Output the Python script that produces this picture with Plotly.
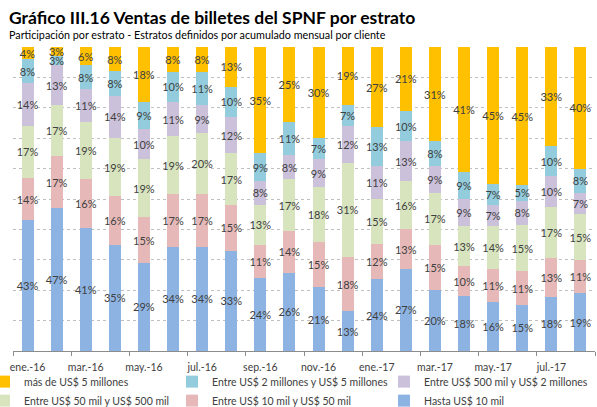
import plotly.graph_objects as go

months = ["ene.-16", "feb.-16", "mar.-16", "abr.-16", "may.-16", "jun.-16", "jul.-16", "ago.-16",
          "sep.-16", "oct.-16", "nov.-16", "dic.-16", "ene.-17", "feb.-17", "mar.-17", "abr.-17",
          "may.-17", "jun.-17", "jul.-17", "ago.-17"]

hasta_10mil = [43, 47, 41, 35, 29, 34, 34, 33, 24, 26, 21, 13, 24, 27, 20, 18, 16, 15, 18, 19]
entre_10_50mil = [14, 17, 16, 16, 15, 17, 17, 15, 11, 14, 15, 18, 12, 13, 15, 10, 11, 11, 13, 11]
entre_50_500mil = [17, 17, 19, 19, 19, 19, 20, 17, 13, 17, 18, 31, 15, 16, 17, 13, 14, 15, 17, 15]
entre_500mil_2mill = [14, 13, 11, 14, 10, 11, 9, 12, 8, 8, 9, 12, 11, 13, 9, 9, 7, 8, 10, 7]
entre_2_5mill = [8, 3, 8, 8, 9, 10, 11, 10, 9, 11, 7, 7, 13, 10, 8, 9, 7, 5, 10, 8]
mas_5mill = [4, 3, 6, 8, 18, 8, 8, 13, 35, 25, 30, 19, 27, 21, 31, 41, 45, 45, 33, 40]

# (name, values, colour, legend column)
series = [
    ("Hasta US$ 10 mil", hasta_10mil, "#8DB3E2", "legend3"),
    ("Entre US$ 10 mil y US$ 50 mil", entre_10_50mil, "#E6B9B8", "legend2"),
    ("Entre US$ 50 mil y US$ 500 mil", entre_50_500mil, "#D7E4BD", "legend"),
    ("Entre US$ 500 mil y US$ 2 millones", entre_500mil_2mill, "#CCC1DA", "legend3"),
    ("Entre US$ 2 millones y US$ 5 millones", entre_2_5mill, "#93CDDD", "legend2"),
    ("más de US$ 5 millones", mas_5mill, "#FFC000", "legend"),
]

FONT = "Lato"
fig = go.Figure()
for name, vals, color, lg in series:
    fig.add_trace(go.Bar(
        x=months, y=vals, name=name, legend=lg,
        marker=dict(color=color, line=dict(width=0)),
        text=[f"{v}%" for v in vals],
        textposition="inside", insidetextanchor="middle", textangle=0,
        constraintext="none",
        textfont=dict(family=FONT, size=11, color="#404040"),
        hoverinfo="skip",
    ))

def leg(x):
    return dict(
        orientation="v", traceorder="reversed",
        x=x, y=-0.053, xanchor="left", yanchor="top",
        font=dict(family=FONT, size=10.5, color="#404040"),
        itemwidth=30, tracegroupgap=0,
        bgcolor="rgba(0,0,0,0)",
    )

fig.update_layout(
    width=597, height=407,
    barmode="stack", barnorm="percent", bargap=0.59,
    uniformtext=dict(minsize=11, mode="show"),
    margin=dict(l=13, r=2, t=47, b=56, autoexpand=False),
    paper_bgcolor="white", plot_bgcolor="white",
    font=dict(family=FONT, color="#404040"),
    showlegend=True,
    legend=leg(-0.0498),
    legend2=leg(0.2732),
    legend3=leg(0.6375),
    annotations=[
        dict(text="<b>Gráfico III.16 Ventas de billetes del SPNF por estrato</b>",
             xref="paper", yref="paper", x=-0.01, y=1.0, xanchor="left", yanchor="bottom",
             yshift=17, showarrow=False, font=dict(family=FONT, size=17.5, color="#000000")),
        dict(text="Participación por estrato - Estratos definidos por acumulado mensual por cliente",
             xref="paper", yref="paper", x=-0.01, y=1.0, xanchor="left", yanchor="bottom",
             yshift=4, showarrow=False, font=dict(family=FONT, size=10.75, color="#000000")),
    ],
)

fig.update_xaxes(
    type="category", tickmode="linear", dtick=2, tick0=0, tickangle=0, automargin=False,
    tickson="boundaries", ticks="outside", ticklen=4, tickcolor="#8c8c8c",
    ticklabelstandoff=6,
    showline=True, linecolor="#8c8c8c", linewidth=1,
    showgrid=False, tickfont=dict(family=FONT, size=10.5, color="#404040"),
)
fig.update_yaxes(
    range=[0, 100], dtick=10, showticklabels=False, showline=False, zeroline=False,
    automargin=False,
    showgrid=True, gridcolor="#BFBFBF", griddash="dot", gridwidth=1,
)

fig.write_html("out.html", config={"responsive": False, "displayModeBar": False},
               post_script="document.body.style.margin='0px';")
